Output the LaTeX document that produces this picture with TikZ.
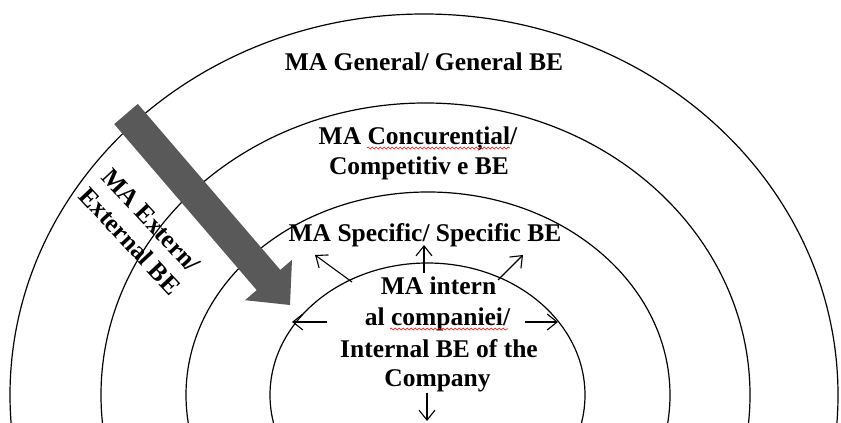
\documentclass[tikz,border=0pt]{standalone}
\usepackage{fontspec}
\setmainfont{Liberation Serif}
\usetikzlibrary{arrows.meta,decorations.pathmorphing}
\begin{document}
\begin{tikzpicture}[x=1pt,y=1pt,
  ring/.style={draw=black,line width=1.2pt},
  lbl/.style={inner sep=0pt,anchor=base,font=\bfseries\fontsize{25.5}{31}\selectfont},
  outarrow/.style={draw=black,line width=1.1pt,-{Straight Barb[length=10pt,width=16pt]}},
  bigarrow/.style={fill={rgb,255:red,89;green,89;blue,89},draw=none},
  spell/.style={draw=red,line width=0.6pt,decorate,decoration={snake,segment length=4pt,amplitude=0.9pt}}]
\useasboundingbox (0,0) rectangle (841,423);
\begin{scope}
\clip (0,0) rectangle (841,423);
% rings
\draw[ring] (424,28) ellipse [x radius=414, y radius=381];
\draw[ring] (425.5,28) ellipse [x radius=324.5, y radius=292];
\draw[ring] (428,28) ellipse [x radius=242, y radius=203];
\draw[ring] (427.5,28) ellipse [x radius=157.5, y radius=132];
\end{scope}
% big grey arrow
\fill[bigarrow] (137.8,319.1) -- (280.3,153.1) -- (292.0,163.2) -- (290,118)
  -- (245.0,122.8) -- (256.7,132.9) -- (114.2,298.9) -- cycle;
% labels
\node[lbl] (gen) at (424,352) {MA General/ General BE};
\node[lbl] (conc1) at (418,278) {MA Concurențial/};
\node[lbl] (conc2) at (419,248) {Competitiv e BE};
\node[lbl] (spec) at (425,181) {MA Specific/ Specific BE};
\node[lbl] (int1) at (438.5,128) {MA intern};
\node[lbl] (int2) at (437.5,97) {al companiei/};
\node[lbl] (int3) at (439,65) {Internal BE of the};
\node[lbl] (int4) at (437.5,36) {Company};
\node[lbl,rotate=-47] (ext1) at (145,197) {MA Extern/};
\node[lbl,rotate=-47] (ext2) at (124,176) {External BE};
% spell-check marks
\draw[spell] (367,275) -- (510,275);
\draw[spell] (390,94) -- (508,94);
% small arrows from the inner ring
\coordinate (upS) at (424,150);   \coordinate (upE) at (424,178);
\coordinate (ulS) at (352,141);   \coordinate (ulE) at (315,168);
\coordinate (urS) at (498,143);   \coordinate (urE) at (523,168);
\coordinate (lS) at (327,101);    \coordinate (lE) at (292,101);
\coordinate (rS) at (525,101);    \coordinate (rE) at (558,101);
\coordinate (dS) at (427,30);     \coordinate (dE) at (427,2);
\draw[outarrow] (upS) -- (upE);
\draw[outarrow] (ulS) -- (ulE);
\draw[outarrow] (urS) -- (urE);
\draw[outarrow] (lS) -- (lE);
\draw[outarrow] (rS) -- (rE);
\draw[outarrow] (dS) -- (dE);
\end{tikzpicture}
\end{document}
